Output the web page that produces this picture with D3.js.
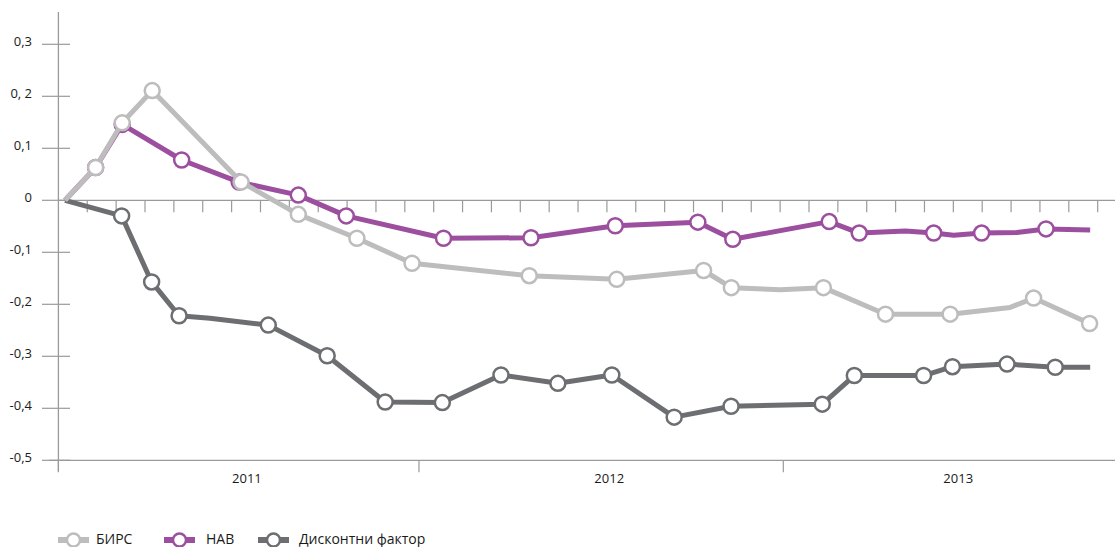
<!DOCTYPE html>
<html>
<head>
<meta charset="utf-8">
<script src="https://cdn.jsdelivr.net/npm/d3@7"></script>
<style>
  body { margin: 0; background: #fff; }
  text { font-family: "Open Sans", sans-serif; fill: #1a1a1a; }
</style>
</head>
<body>
<script>
"use strict";
// x in month units (tick = 1 month), y = value
const birsX = [0.23, 1.29, 2.21, 3.25, 6.33, 8.31, 10.34, 12.25, 16.31, 19.34, 22.35, 23.31, 25.00, 26.50, 28.65, 30.89, 32.97, 33.78, 35.72]
const birsY = [0, 0.063, 0.149, 0.211, 0.035, -0.027, -0.073, -0.121, -0.145, -0.152, -0.135, -0.168, -0.172, -0.168, -0.219, -0.219, -0.206, -0.188, -0.237]
const birsM = [0, 1, 1, 1, 1, 1, 1, 1, 1, 1, 1, 1, 0, 1, 1, 1, 0, 1, 1]

const navX = [0.23, 1.29, 2.21, 4.27, 6.26, 8.31, 9.97, 13.34, 16.37, 19.29, 22.15, 23.36, 26.70, 27.74, 29.34, 30.32, 31.01, 31.98, 33.20, 34.21, 35.74]
const navY = [0, 0.063, 0.146, 0.0775, 0.035, 0.010, -0.030, -0.073, -0.072, -0.049, -0.042, -0.075, -0.041, -0.063, -0.059, -0.063, -0.067, -0.063, -0.062, -0.055, -0.057]
const navM = [0, 1, 1, 1, 1, 1, 1, 1, 1, 1, 1, 1, 1, 1, 0, 1, 0, 1, 0, 1, 0]

const discX = [0.23, 2.19, 3.23, 4.18, 5.25, 7.27, 9.31, 11.32, 13.30, 15.33, 17.30, 19.17, 21.33, 23.30, 26.46, 27.57, 29.97, 30.97, 32.86, 34.53, 35.74]
const discY = [0, -0.030, -0.157, -0.222, -0.227, -0.240, -0.299, -0.388, -0.389, -0.336, -0.352, -0.336, -0.417, -0.396, -0.392, -0.337, -0.337, -0.320, -0.315, -0.321, -0.321]
const discM = [0, 1, 1, 1, 0, 1, 1, 1, 1, 1, 1, 1, 1, 1, 1, 1, 1, 1, 1, 1, 0]

const yTicks = [0.3, 0.2, 0.1, 0, -0.1, -0.2, -0.3, -0.4, -0.5]
const yTickLabels = ["0,3", "0, 2", "0,1", "0", "-0,1", "-0,2", "-0,3", "-0,4", "-0,5"]
const monthTicks = d3.range(1, 37)
const yearBounds = [0, 12.49, 25.11]
const yearLabels = ["2011", "2012", "2013"]
const yearLabelPos = [6.53, 19.08, 31.17]

const seriesNames = ["БИРС", "НАВ", "Дисконтни фактор"]
const colors = {
    "БИРС": "#bdbdbd",
    "НАВ": "#9c4f9e",
    "Дисконтни фактор": "#6d6e71"
}

const width = 1115, height = 547
const axisColor = "#9a9a9a"

const svg = d3.select("body").append("svg")
    .attr("width", width)
    .attr("height", height)

const x = d3.scaleLinear().domain([0, 36.6]).range([58.4, 1115])
const y = d3.scaleLinear().domain([0, -0.5]).range([200.3, 460.3])

// y axis line
svg.append("line")
    .attr("x1", x(0)).attr("x2", x(0))
    .attr("y1", 12).attr("y2", 471)
    .attr("stroke", axisColor).attr("stroke-width", 1.3)

// y ticks + labels
svg.selectAll(".ytick")
    .data(yTicks)
    .enter()
    .append("line")
        .attr("x1", 42).attr("x2", 70)
        .attr("y1", d => y(d)).attr("y2", d => y(d))
        .attr("stroke", axisColor).attr("stroke-width", 1.2)

svg.selectAll(".ylabel")
    .data(yTicks)
    .enter()
    .append("text")
        .attr("x", 32)
        .attr("y", d => y(d) - 2)
        .attr("text-anchor", "end")
        .attr("dominant-baseline", "middle")
        .style("font-size", "13px")
        .text((d, i) => yTickLabels[i])

// zero line with monthly ticks
svg.append("line")
    .attr("x1", x(0)).attr("x2", width)
    .attr("y1", y(0)).attr("y2", y(0))
    .attr("stroke", axisColor).attr("stroke-width", 1.3)

svg.selectAll(".mtick")
    .data(monthTicks)
    .enter()
    .append("line")
        .attr("x1", d => x(d)).attr("x2", d => x(d))
        .attr("y1", y(0)).attr("y2", y(0) + 12)
        .attr("stroke", axisColor).attr("stroke-width", 1.2)

// bottom axis
svg.append("line")
    .attr("x1", 49).attr("x2", width)
    .attr("y1", y(-0.5)).attr("y2", y(-0.5))
    .attr("stroke", axisColor).attr("stroke-width", 1.3)

svg.selectAll(".ybound")
    .data(yearBounds)
    .enter()
    .append("line")
        .attr("x1", d => x(d)).attr("x2", d => x(d))
        .attr("y1", y(-0.5)).attr("y2", y(-0.5) + 12)
        .attr("stroke", axisColor).attr("stroke-width", 1.2)

svg.selectAll(".yearlabel")
    .data(yearLabels)
    .enter()
    .append("text")
        .attr("x", (d, i) => x(yearLabelPos[i]))
        .attr("y", 480)
        .attr("text-anchor", "middle")
        .attr("dominant-baseline", "middle")
        .style("font-size", "13px")
        .text(d => d)

// series
const series = [
    { name: "Дисконтни фактор", xs: discX, ys: discY, ms: discM },
    { name: "НАВ", xs: navX, ys: navY, ms: navM },
    { name: "БИРС", xs: birsX, ys: birsY, ms: birsM }
]

const line = d3.line().x(d => x(d[0])).y(d => y(d[1]))

series.forEach(function(s) {
    const pts = s.xs.map((v, i) => [v, s.ys[i], s.ms[i]])
    svg.append("path")
        .datum(pts)
        .attr("d", line)
        .attr("fill", "none")
        .attr("stroke", colors[s.name])
        .attr("stroke-width", 5)
        .attr("stroke-linejoin", "round")
    svg.selectAll(".m" + s.name)
        .data(pts.filter(p => p[2]))
        .enter()
        .append("circle")
            .attr("cx", d => x(d[0]))
            .attr("cy", d => y(d[1]))
            .attr("r", 7.5)
            .attr("fill", "white")
            .attr("stroke", colors[s.name])
            .attr("stroke-width", 2.5)
})

// legend
const legendX = [58, 164, 258]
const legend = svg.selectAll(".legend")
    .data(seriesNames)
    .enter()
    .append("g")
        .attr("transform", (d, i) => "translate(" + legendX[i] + ",540)")

legend.append("line")
    .attr("x1", 0).attr("x2", 31)
    .attr("y1", 0).attr("y2", 0)
    .attr("stroke", d => colors[d])
    .attr("stroke-width", 6)

legend.append("circle")
    .attr("cx", 15.5).attr("cy", 0).attr("r", 6.5)
    .attr("fill", "white")
    .attr("stroke", d => colors[d])
    .attr("stroke-width", 2.5)

legend.append("text")
    .attr("x", (d, i) => i == 0 ? 38 : (i == 1 ? 42 : 41))
    .attr("y", 0)
    .attr("dominant-baseline", "middle")
    .style("font-size", "14px")
    .text(d => d)
</script>
</body>
</html>
